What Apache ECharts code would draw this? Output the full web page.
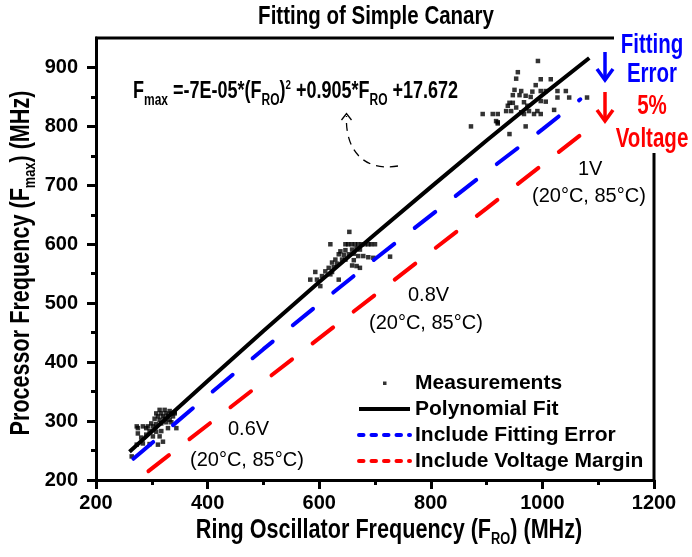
<!DOCTYPE html>
<html>
<head>
<meta charset="utf-8">
<script src="https://cdn.jsdelivr.net/npm/echarts@6/dist/echarts.min.js"></script>
<style>
  html, body { margin: 0; padding: 0; background: #fff; }
  #chart { width: 692px; height: 557px; }
</style>
</head>
<body>
<div id="chart"></div>
<script>
// Measured Fmax vs ring-oscillator frequency, one cluster per supply voltage
const meas06V = [[314,319],[323,319],[332,317],[308,313],[317,313],[326,313],[335,313],[341,315],
  [311,308],[320,308],[329,309],[338,308],[305,304],[314,302],[323,304],[332,302],[299,296],[308,295],
  [317,296],[326,298],[335,298],[293,291],[302,291],[284,291],[275,288],[290,288],[329,288],[296,283],
  [308,282],[317,283],[290,277],[302,274],[281,272],[314,274],[320,265],[273,260],[284,262],[296,261],
  [311,260],[264,240],[275,279],[273,291],[344,288],[341,313]];
const meas08V = [[654,621],[620,600],[647,600],[652,600],[658,600],[664,600],[670,600],[676,600],
  [682,600],[688,600],[693,600],[700,600],[638,588],[647,590],[659,591],[667,593],[673,591],[635,583],
  [644,582],[653,583],[662,584],[670,580],[679,580],[697,577],[688,578],[629,574],[641,574],[647,574],
  [662,573],[623,569],[632,567],[659,564],[667,563],[673,560],[617,560],[626,561],[611,554],[623,553],
  [593,553],[605,546],[620,549],[584,540],[596,540],[635,540],[602,529],[727,579]];
const meas1V = [[992,911],[956,892],[953,881],[997,880],[1015,880],[988,870],[950,862],[962,860],
  [947,853],[959,853],[970,852],[982,859],[997,860],[1006,860],[1027,860],[1042,860],[979,850],
  [1027,849],[1048,849],[1080,849],[997,843],[1006,842],[941,840],[947,840],[938,835],[935,826],
  [944,826],[976,826],[991,826],[985,821],[997,821],[1021,828],[911,821],[920,821],[917,809],[920,805],
  [970,800],[941,787],[967,821],[962,824],[953,832],[973,835],[967,841],[872,800],[893,821],[920,807]];

// Polynomial fit curve
const fitX = [260, 400, 500, 600, 700, 800, 900, 1000, 1084];
const fitY = [248, 368, 453, 536, 617, 697, 776, 853, 916];
// Fit lowered by the fitting error
const errX = [267, 400, 500, 600, 700, 800, 900, 1000, 1068];
const errY = [236, 343, 422, 499, 575, 649, 723, 795, 846];
// Additional 5% voltage margin
const voltX = [294, 500, 700, 900, 1095];
const voltY = [215, 367, 514, 661, 805];

// Axis ticks
const xTicks = [200, 400, 600, 800, 1000, 1200];
const yTicks = [200, 300, 400, 500, 600, 700, 800, 900];
const yMinorTicks = [250, 350, 450, 550, 650, 750, 850];

const SANS = "'Liberation Sans', Arial, Helvetica, sans-serif";
const zip = (xs, ys) => xs.map((x, i) => [x, ys[i]]);

const axisColor = '#000';
const tickStyle = { color: axisColor, width: 3 };
const labelStyle = { fontSize: 20, fontWeight: 'bold', color: '#000', fontFamily: SANS, formatter: v => String(v) };

const chart = echarts.init(document.getElementById('chart'), null, { renderer: 'canvas' });

const legendDash = { type: [4.5, 8], cap: 'round', width: 4 };
const hiddenSymbol = { opacity: 0 };

const option = {
  backgroundColor: '#fff',
  animation: false,
  grid: { left: 96, right: 38, top: 38, bottom: 77 },
  xAxis: {
    type: 'value', min: xTicks[0], max: xTicks[xTicks.length - 1], interval: 200,
    axisLine: { show: true, onZero: false, lineStyle: { color: axisColor, width: 3 } },
    axisTick: { show: true, length: 9, lineStyle: tickStyle },
    minorTick: { show: true, splitNumber: 2, length: 5, lineStyle: tickStyle },
    axisLabel: Object.assign({ margin: 13 }, labelStyle),
    splitLine: { show: false }, minorSplitLine: { show: false }
  },
  yAxis: [{
    type: 'value', min: 200, max: 950,
    axisLine: { show: true, onZero: false, lineStyle: { color: axisColor, width: 3 } },
    axisTick: { show: true, length: 9, lineStyle: tickStyle, customValues: yTicks },
    axisLabel: Object.assign({ margin: 18, customValues: yTicks }, labelStyle),
    splitLine: { show: false }
  }, {
    type: 'value', min: 200, max: 950, position: 'left', offset: 0,
    axisLine: { show: false },
    axisTick: { show: true, length: 5, lineStyle: tickStyle, customValues: yMinorTicks },
    axisLabel: { show: false },
    splitLine: { show: false }
  }],
  legend: {
    orient: 'vertical', left: 357, top: 370, padding: 0,
    itemWidth: 51, itemHeight: 14, itemGap: 0,
    textStyle: { fontSize: 21, fontWeight: 'bold', color: '#000', fontFamily: SANS, lineHeight: 26 },
    data: [
      { name: 'Measurements', icon: 'path://M0,0M51,14M24,5.5h3.5v3.5h-3.5z' },
      { name: 'Polynomial Fit', lineStyle: { width: 4 }, itemStyle: hiddenSymbol },
      { name: 'Include Fitting Error', lineStyle: legendDash, itemStyle: hiddenSymbol },
      { name: 'Include Voltage Margin', lineStyle: legendDash, itemStyle: hiddenSymbol }
    ]
  },
  series: [
    {
      name: 'Measurements', type: 'scatter', symbol: 'rect', symbolSize: 4.5,
      itemStyle: { color: '#000' }, z: 3,
      data: meas06V.concat(meas08V, meas1V)
    },
    {
      name: 'Polynomial Fit', type: 'line', symbol: 'none', showSymbol: false, z: 4,
      lineStyle: { color: '#000', width: 4 }, itemStyle: { color: '#000' },
      data: zip(fitX, fitY)
    },
    {
      name: 'Include Fitting Error', type: 'line', symbol: 'none', showSymbol: false, z: 4,
      lineStyle: { color: '#0000ff', width: 4, type: [26, 26], cap: 'round' }, itemStyle: { color: '#0000ff' },
      data: zip(errX, errY)
    },
    {
      name: 'Include Voltage Margin', type: 'line', symbol: 'none', showSymbol: false, z: 4,
      lineStyle: { color: '#ff0000', width: 4, type: [26, 26], cap: 'round' }, itemStyle: { color: '#ff0000' },
      data: zip(voltX, voltY)
    }
  ],
  graphic: [
    // frame: top edge and right edge (broken by the side labels)
    { type: 'polyline', shape: { points: [[95, 38], [614, 38]] }, style: { stroke: '#000', lineWidth: 3 } },
    { type: 'polyline', shape: { points: [[654, 153], [654, 481]] }, style: { stroke: '#000', lineWidth: 3 } },
    // title
    { type: 'text', x: 376, y: 17, scaleX: 0.82,
      style: { text: 'Fitting of Simple Canary', fontSize: 25, fontWeight: 'bold', fontFamily: SANS,
               fill: '#000', align: 'center', verticalAlign: 'middle' } },
    // x axis name
    { type: 'text', x: 389, y: 531, scaleX: 0.8,
      style: { text: '{n|Ring Oscillator Frequency (F}{s|RO}{n|) (MHz)}', fill: '#000',
               align: 'center', verticalAlign: 'middle',
               rich: { n: { fontSize: 27, fontWeight: 'bold', fontFamily: SANS, lineHeight: 34 },
                       s: { fontSize: 16, fontWeight: 'bold', fontFamily: SANS, lineHeight: 16, verticalAlign: 'bottom' } } } },
    // y axis name
    { type: 'text', x: 22, y: 263, rotation: Math.PI / 2, scaleX: 0.8,
      style: { text: '{n|Processor Frequency (F}{s|max}{n|) (MHz)}', fill: '#000',
               align: 'center', verticalAlign: 'middle',
               rich: { n: { fontSize: 27, fontWeight: 'bold', fontFamily: SANS, lineHeight: 34 },
                       s: { fontSize: 16, fontWeight: 'bold', fontFamily: SANS, lineHeight: 16, verticalAlign: 'bottom' } } } },
    // fitted equation
    { type: 'text', x: 133, y: 91, scaleX: 0.75,
      style: { text: '{n|F}{s|max}{n| =-7E-05*(F}{s|RO}{n|)}{p|2}{n| +0.905*F}{s|RO}{n| +17.672}', fill: '#000',
               align: 'left', verticalAlign: 'middle',
               rich: { n: { fontSize: 24, fontWeight: 'bold', fontFamily: SANS, lineHeight: 36 },
                       s: { fontSize: 16, fontWeight: 'bold', fontFamily: SANS, lineHeight: 16, verticalAlign: 'bottom' },
                       p: { fontSize: 13, fontWeight: 'bold', fontFamily: SANS, verticalAlign: 'top', padding: [6, 0, 0, 0] } } } },
    // dashed curved pointer to the equation
    { type: 'bezierCurve',
      shape: { x1: 398, y1: 166, cpx1: 362, cpy1: 172, cpx2: 345, cpy2: 148, x2: 346.5, y2: 116 },
      style: { stroke: '#000', lineWidth: 1.3, lineDash: [8, 6], fill: null } },
    { type: 'polyline', shape: { points: [[341.5, 120], [346.5, 113.5], [351.5, 120]] },
      style: { stroke: '#000', lineWidth: 1.3, fill: null } },
    // voltage / temperature annotations
    { type: 'text', x: 578, y: 169, style: { text: '1V', fontSize: 20, fontFamily: SANS, fill: '#000', align: 'left', verticalAlign: 'middle' } },
    { type: 'text', x: 532, y: 196, style: { text: '(20°C, 85°C)', fontSize: 20, fontFamily: SANS, fill: '#000', align: 'left', verticalAlign: 'middle' } },
    { type: 'text', x: 408, y: 295, style: { text: '0.8V', fontSize: 20, fontFamily: SANS, fill: '#000', align: 'left', verticalAlign: 'middle' } },
    { type: 'text', x: 369, y: 323, style: { text: '(20°C, 85°C)', fontSize: 20, fontFamily: SANS, fill: '#000', align: 'left', verticalAlign: 'middle' } },
    { type: 'text', x: 228, y: 429, style: { text: '0.6V', fontSize: 20, fontFamily: SANS, fill: '#000', align: 'left', verticalAlign: 'middle' } },
    { type: 'text', x: 190, y: 460, style: { text: '(20°C, 85°C)', fontSize: 20, fontFamily: SANS, fill: '#000', align: 'left', verticalAlign: 'middle' } },
    // margin labels with arrows
    { type: 'text', x: 652, y: 46, scaleX: 0.76, style: { text: 'Fitting', fontSize: 27, fontWeight: 'bold', fontFamily: SANS, fill: '#0000ff', align: 'center', verticalAlign: 'middle' } },
    { type: 'text', x: 652, y: 75, scaleX: 0.76, style: { text: 'Error', fontSize: 27, fontWeight: 'bold', fontFamily: SANS, fill: '#0000ff', align: 'center', verticalAlign: 'middle' } },
    { type: 'text', x: 652, y: 107, scaleX: 0.76, style: { text: '5%', fontSize: 27, fontWeight: 'bold', fontFamily: SANS, fill: '#ff0000', align: 'center', verticalAlign: 'middle' } },
    { type: 'text', x: 652, y: 140, scaleX: 0.76, style: { text: 'Voltage', fontSize: 27, fontWeight: 'bold', fontFamily: SANS, fill: '#ff0000', align: 'center', verticalAlign: 'middle' } },
    { type: 'polyline', shape: { points: [[605, 52], [605, 78]] }, style: { stroke: '#0000ff', lineWidth: 3.5 } },
    { type: 'polyline', shape: { points: [[597, 69], [605, 80], [613, 69]] }, style: { stroke: '#0000ff', lineWidth: 3.5, fill: null } },
    { type: 'polyline', shape: { points: [[605, 92], [605, 119]] }, style: { stroke: '#ff0000', lineWidth: 3.5 } },
    { type: 'polyline', shape: { points: [[597, 110], [605, 121], [613, 110]] }, style: { stroke: '#ff0000', lineWidth: 3.5, fill: null } }
  ]
};

chart.setOption(option);
</script>
</body>
</html>
